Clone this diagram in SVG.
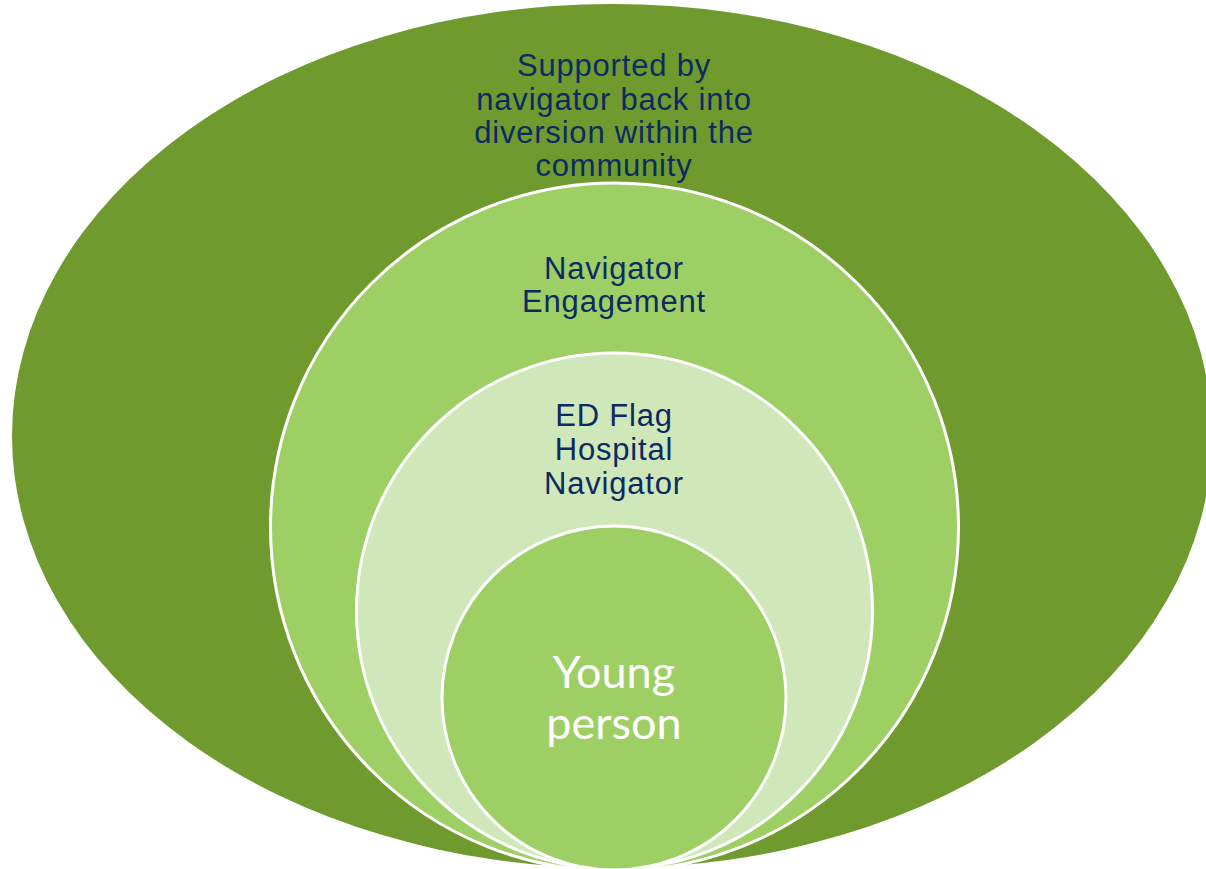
<svg xmlns="http://www.w3.org/2000/svg" width="1206" height="869" viewBox="0 0 1206 869">
<style>
.ring{stroke:#ffffff;stroke-width:3}
.lbl{font-family:"Liberation Sans",Arial,sans-serif;font-size:31px;letter-spacing:0.8px;fill:#0d2a62;text-anchor:middle}
.core{font-family:Lato,"Liberation Sans",sans-serif;font-size:45px;fill:#ffffff;text-anchor:middle}
</style>
<rect width="1206" height="869" fill="#ffffff"/>
<g id="outer">
<ellipse cx="612" cy="436" rx="600" ry="432" fill="#6f9a2e"/>
<text class="lbl"><tspan x="614" y="76">Supported by</tspan><tspan x="614" y="110">navigator back into</tspan><tspan x="614" y="143">diversion within the</tspan><tspan x="614" y="176">community</tspan></text>
</g>
<g id="engagement">
<circle class="ring" cx="614.5" cy="527" r="344" fill="#9ecf65"/>
<text class="lbl"><tspan x="614" y="279">Navigator</tspan><tspan x="614" y="312">Engagement</tspan></text>
</g>
<g id="edflag">
<circle class="ring" cx="614.5" cy="611" r="258" fill="#cfe7b9"/>
<text class="lbl"><tspan x="614" y="426">ED Flag</tspan><tspan x="614" y="460">Hospital</tspan><tspan x="614" y="494">Navigator</tspan></text>
</g>
<g id="young">
<circle class="ring" cx="614" cy="698" r="172" fill="#9ecf65"/>
<text class="core"><tspan x="614" y="688">Young</tspan><tspan x="614" y="739">person</tspan></text>
</g>
<g id="connectors"/>
</svg>
